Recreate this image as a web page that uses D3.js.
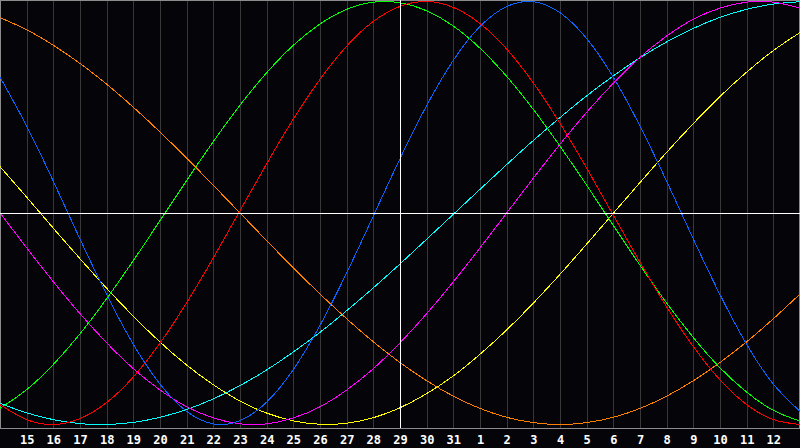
<!DOCTYPE html>
<html>
<head>
<meta charset="utf-8">
<script src="https://cdn.jsdelivr.net/npm/d3@7"></script>
<style>
  html, body { margin: 0; padding: 0; background: #050509; }
  svg { display: block; }
</style>
</head>
<body>
<div id="chart"></div>
<script>
// day of month for each sample column (edge columns have no label)
const days = [14, 15, 16, 17, 18, 19, 20, 21, 22, 23, 24, 25, 26, 27, 28, 29, 30, 31,
  1, 2, 3, 4, 5, 6, 7, 8, 9, 10, 11, 12, 13]
const centerDay = 15 // index of the marked day (29)

// cycle values, -100..100, one per day
const physical = [64.2, 41.1, 15.0, -12.3, -38.6, -62.1, -80.9, -93.8, -99.7, -98.2, -89.4,
  -74.0, -53.1, -28.3, -1.4, 25.7, 50.8, 72.2, 88.2, 97.6, 99.9, 94.7, 82.5, 64.2, 41.1,
  15.0, -12.3, -38.6, -62.1, -80.9, -93.8]
const emotional = [-90.6, -97.7, -100, -97.2, -89.6, -77.5, -61.5, -42.4, -21.2, 1.1, 23.3,
  44.4, 63.2, 78.9, 90.6, 97.7, 100, 97.2, 89.6, 77.5, 61.5, 42.4, 21.2, -1.1, -23.3,
  -44.4, -63.2, -78.9, -90.6, -97.7, -100]
const intellectual = [-92.4, -83.5, -71.6, -57.1, -40.5, -22.5, -3.6, 15.4, 33.8, 51.0, 66.3,
  79.3, 89.4, 96.3, 99.7, 99.4, 95.6, 88.4, 77.9, 64.6, 49.0, 31.6, 13.1, -5.9, -24.7,
  -42.6, -58.9, -73.2, -84.7, -93.3, -98.4]
const intuitive = [0, -16.5, -32.5, -47.6, -61.4, -73.6, -83.7, -91.6, -96.9, -99.7, -99.7,
  -96.9, -91.6, -83.7, -73.6, -61.4, -47.6, -32.5, -16.5, 0, 16.5, 32.5, 47.6, 61.4, 73.6,
  83.7, 91.6, 96.9, 99.7, 99.7, 96.9]
const aesthetic = [21.9, 7.5, -7.2, -21.6, -35.6, -48.8, -61.0, -71.9, -81.2, -88.9, -94.6,
  -98.3, -99.9, -99.4, -96.8, -92.1, -85.4, -77.0, -66.8, -55.3, -42.6, -29.0, -14.7, -0.1,
  14.4, 28.7, 42.3, 55.1, 66.6, 76.8, 85.3]
const awareness = [92.4, 86.6, 79.3, 70.7, 60.9, 50, 38.3, 25.9, 13.1, 0, -13.1, -25.9,
  -38.3, -50, -60.9, -70.7, -79.3, -86.6, -92.4, -96.6, -99.1, -100, -99.1, -96.6, -92.4,
  -86.6, -79.3, -70.7, -60.9, -50, -38.3]
const spiritual = [-90.0, -94.5, -97.7, -99.6, -100, -99.0, -96.6, -92.9, -87.9, -81.6, -74.2,
  -65.7, -56.4, -46.2, -35.4, -24.1, -12.4, -0.6, 11.2, 22.9, 34.3, 45.1, 55.4, 64.8, 73.4,
  80.9, 87.3, 92.5, 96.3, 98.8, 99.9]

const series = [
  {name: 'awareness', values: awareness, color: '#ff8000'},
  {name: 'spiritual', values: spiritual, color: '#00ffff'},
  {name: 'aesthetic', values: aesthetic, color: '#ffff00'},
  {name: 'intuitive', values: intuitive, color: '#ff00ff'},
  {name: 'intellectual', values: intellectual, color: '#00ff00'},
  {name: 'emotional', values: emotional, color: '#ff0000'},
  {name: 'physical', values: physical, color: '#0a64ff'}
]

const width = 800
const height = 448
const plotH = 428

const x = d3.scaleLinear().domain([0, days.length - 1]).range([0, width])
const y = d3.scaleLinear().domain([-100, 100]).range([424.5, 1.5])

const svg = d3.select('#chart').append('svg')
    .attr('width', width)
    .attr('height', height)

svg.append('rect')
    .attr('width', width)
    .attr('height', height)
    .attr('fill', '#050509')

// day grid + labels
const tickIdx = d3.range(1, days.length - 1)
const xAxis = d3.axisBottom(x)
    .tickValues(tickIdx)
    .tickSize(plotH)
    .tickSizeOuter(0)
    .tickFormat(i => days[i])

const gx = svg.append('g')
    .attr('class', 'x axis')
    .call(xAxis)
gx.select('.domain').remove()
gx.selectAll('.tick line')
    .attr('stroke', '#383838')
    .attr('shape-rendering', 'crispEdges')
gx.selectAll('.tick text')
    .attr('fill', '#ffffff')
    .attr('y', 443.5)
    .attr('dy', 0)
    .style('font-family', '"DejaVu Sans Mono", monospace')
    .style('font-weight', 'bold')
    .style('font-size', '12px')

// frame
svg.append('rect')
    .attr('x', 0.5)
    .attr('y', 0.5)
    .attr('width', width - 1)
    .attr('height', plotH - 0.5)
    .attr('fill', 'none')
    .attr('stroke', '#8c8c8c')
    .attr('shape-rendering', 'crispEdges')

// curves
const line = d3.line()
    .x((d, i) => x(i))
    .y(d => y(d))
    .curve(d3.curveNatural)

svg.append('g').attr('class', 'cycles')
  .selectAll('path')
  .data(series)
  .enter().append('path')
    .attr('d', d => line(d.values))
    .attr('fill', 'none')
    .attr('stroke', d => d.color)
    .attr('stroke-width', 1)
    .attr('shape-rendering', 'crispEdges')

// zero line and today marker
svg.append('line')
    .attr('x1', 0).attr('x2', width)
    .attr('y1', y(0)).attr('y2', y(0))
    .attr('stroke', '#ffffff')
    .attr('shape-rendering', 'crispEdges')
svg.append('line')
    .attr('x1', x(centerDay)).attr('x2', x(centerDay))
    .attr('y1', 0).attr('y2', plotH)
    .attr('stroke', '#ffffff')
    .attr('shape-rendering', 'crispEdges')
</script>
</body>
</html>
